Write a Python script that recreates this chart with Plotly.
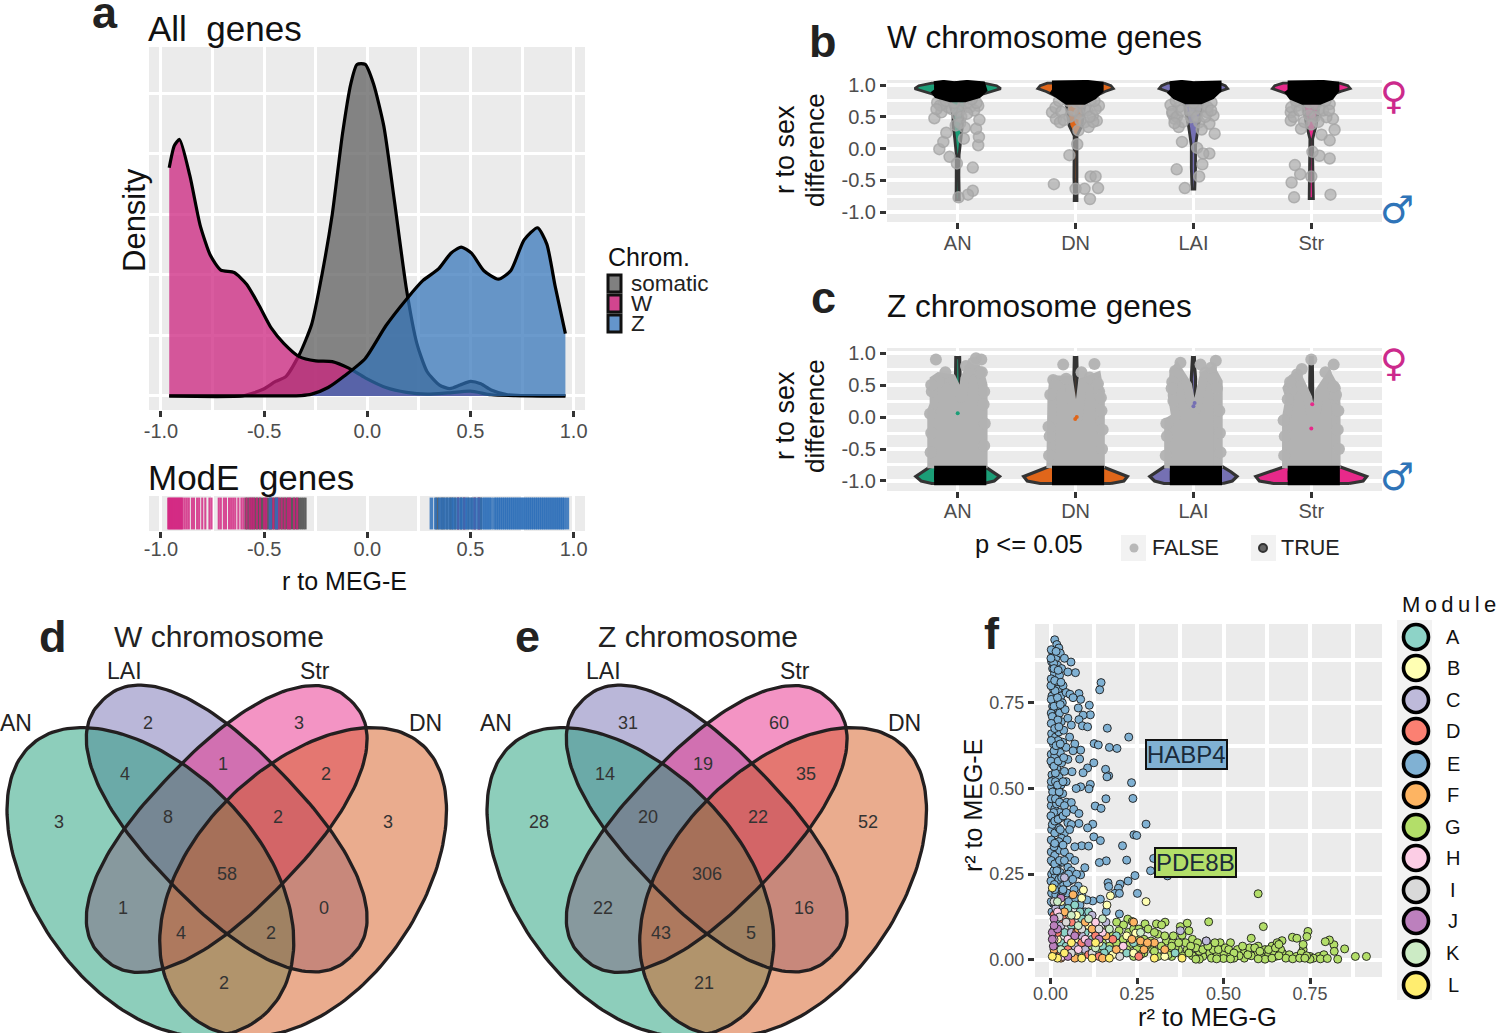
import numpy as np
import plotly.graph_objects as go

W_PX, H_PX = 1500, 1033
FONT = "Liberation Sans"
TICK = "#4d4d4d"
PANEL = "#ebebeb"

# ---------- panel a : density curves ----------
somatic_x = [-.96,-.60,-.505,-.445,-.395,-.33,-.27,-.22,-.17,-.12,-.08,-.05,-.01,.03,.08,.13,.19,.24,.29,.35,.40,.45,.50,.55,.60,.68,.80,.96]
somatic_y = [0,.002,.055,.12,.16,.34,.59,1.0,1.5,2.17,2.58,2.74,2.74,2.58,2.23,1.63,.88,.435,.2,.09,.06,.09,.12,.10,.05,.01,.002,0]
w_x = [-.96,-.935,-.91,-.86,-.81,-.76,-.71,-.645,-.585,-.525,-.465,-.405,-.33,-.25,-.17,-.09,-.01,.09,.19,.29,.39,.5,.6,.75,.96]
w_y = [1.886,2.07,2.12,1.82,1.41,1.16,1.04,1.02,.924,.75,.56,.435,.325,.29,.284,.23,.15,.07,.03,.015,.025,.04,.01,.002,0]
z_x = [-.96,-.40,-.32,-.27,-.19,-.11,-.01,.09,.19,.27,.345,.405,.455,.505,.565,.635,.695,.76,.825,.87,.91,.96]
z_y = [0,0,.003,.015,.07,.167,.31,.58,.8,.955,1.05,1.18,1.23,1.18,1.035,.965,1.035,1.29,1.39,1.255,.91,.515]

# ---------- panel a : ModE rug ----------
rug_somatic = [-.59,-.58,-.57,-.56,-.55,-.54,-.53,-.52,-.51,-.50,-.49,-.48,-.47,-.46,-.45,-.44,-.43,-.42,-.41,-.40,-.39,-.38,-.37,-.36,-.35,-.34,-.33,-.32,-.31,-.30,
               .335,.345,.36,.37,.385,.40,.41,.425,.44,.455,.47,.49,.505,.52,.54,.55]
rug_w = [-.965,-.96,-.955,-.95,-.945,-.94,-.935,-.93,-.925,-.92,-.915,-.91,-.905,-.90,-.895,-.885,-.875,-.865,-.85,-.84,-.825,-.815,-.80,-.785,-.765,-.755,-.72,-.71,-.695,-.685,-.67,-.66,-.65,-.64,-.625,-.61,-.60,-.585,-.57,-.56,-.55,-.535,-.52,-.50,-.49,-.47,-.455,-.44,-.43,-.415,-.40,-.385,-.375,-.355,-.34,.44,.47,.52,.54]
rug_z = [-.47,-.44,.31,.33,.35,.365,.38,.395,.41,.42,.435,.45,.46,.475,.485,.50,.515,.53,.545,.56,.57,.58,.59,.60,.615,.625,.635,.645,.655,.665,.675,.685,.695,.705,.715,.725,.735,.745,.755,.765,.775,.785,.795,.805,.815,.825,.835,.845,.855,.865,.875,.885,.895,.905,.915,.925,.935,.945,.955,.97]

# ---------- panels b, c : violins ----------
regions = ["AN", "DN", "LAI", "Str"]
region_colors = ["#1b9e77", "#e0661a", "#7570b3", "#e7298a"]

b_viol_r = [[1.03,.99,.945,.90,.855,.72,.52,.37,.15,-.10,-.42,-.70,-.81],
            [1.03,.99,.945,.90,.80,.70,.52,.36,.20,-.15,-.47,-.67,-.82],
            [1.03,.99,.945,.90,.80,.72,.36,.05,-.31,-.64],
            [1.03,.99,.945,.90,.80,.72,.36,.15,-.15,-.47,-.79]]
b_viol_hw = [[.22,.33,.365,.29,.21,.07,.04,.04,.025,.012,.01,.014,.014],
             [.24,.30,.32,.25,.14,.08,.065,.055,.012,.01,.014,.01,.012],
             [.22,.27,.29,.22,.11,.08,.042,.018,.018,.012],
             [.24,.31,.33,.25,.11,.07,.04,.012,.012,.018,.018]]
# black clouds of significant genes
b_blob_x = [[-.2,-.12,-.03,.08,.2,.21,.17,.06,-.06,-.17,-.2],[-.2,-.1,.0,.1,.2,.2,.15,.07,-.07,-.15,-.2],[-.2,-.1,.0,.12,.2,.2,.15,.06,-.06,-.15,-.2],[-.2,-.08,.03,.1,.2,.2,.16,.07,-.07,-.16,-.2]]
b_blob_r = [[.99,1.01,.99,1.01,.99,.93,.86,.80,.80,.86,.93],[1.0,1.01,.99,1.01,.99,.93,.84,.76,.76,.84,.93],[.99,1.01,.99,1.01,1.0,.93,.84,.77,.77,.84,.93],[1.0,1.01,.99,1.01,.99,.93,.83,.76,.76,.83,.93]]
b_grey_x = [[-.198,-.156,-.122,-.097,-.069,-.007,.128,.128,.087,.007,.174,.18,.156,.184,.174,.052,-.017,-.174,-.139,.035,.104,0,-.12,-.08,.05,.1,0,-.15,-.18,-.05,.14,.16,.03,.08,-.1,.12,-.03,.02,.06],
            [-.184,-.052,.014,0,.076,.128,.17,.191,.122,-.2,-.167,-.132,.18,.146,.198,.076,.007,.076,.024,-.0625,.128,.11,-.17,-.12,-.05,.03,.1,.15,.05,-.02,.12,-.1,.17,.04,-.14,.16],
            [-.194,-.16,-.177,-.125,-.097,.031,.135,.083,.076,.049,-.142,-.073,.18,.17,.135,.014,.083,-.056,.049,-.021,-.125,.153,.118,-.18,-.14,-.1,-.03,.06,.12,.03,.1,-.15,.15,0,-.09,.07,-.16],
            [-.174,-.139,-.094,-.167,-.146,0,.163,.156,.069,.01,.198,.156,.087,.184,.128,.156,.069,-.017,-.087,-.174,-.122,-.017,-.09,-.17,-.15,-.1,-.03,.04,.1,.15,.03,-.06,-.13,.12,.06,0]]
b_grey_r = [[.478,-.01,.104,.249,-.13,-.234,-.30,-.665,-.727,-.769,.052,.182,.312,.452,.675,.156,.364,.727,.571,.623,.649,.519,.7,.65,.7,.72,.6,.68,.62,.62,.6,.72,.5,.55,.75,.78,.72,.4,.33],
            [-.561,-.104,.068,-.634,-.634,-.44,-.44,-.623,-.795,.571,.468,.415,.44,.52,.675,.623,.727,.415,.286,.753,.753,.338,.65,.58,.5,.55,.6,.42,.72,.6,.5,.45,.62,.45,.75,.75],
            [.686,.468,.545,.338,.104,.01,-.078,-.078,-.249,-.44,-.327,-.623,.234,.519,.39,.623,.727,.753,.415,.494,.649,.727,.571,.58,.5,.6,.6,.65,.65,.5,.5,.75,.6,.72,.42,.3,.4],
            [.571,-.26,-.405,-.535,-.769,-.44,-.727,-.156,-.114,-.052,.296,.13,.218,.468,.494,.701,.623,.519,.312,.442,.675,.727,.73,.65,.5,.6,.6,.7,.6,.6,.5,.42,.75,.75,.42,.38]]

c_viol_r = [-1.04,-1.0,-.93,-.86,-.78,-.65,.3,.6,.75,.93]
c_viol_hw = [[.22,.31,.355,.30,.235,.05,.02,.02,.018,.016],
             [.30,.41,.44,.35,.235,.05,.014,.014,.014,.01],
             [.25,.33,.37,.32,.25,.05,.014,.018,.012,.008],
             [.32,.44,.47,.36,.235,.05,.012,.012,.012,.008]]
# outline of the overlapping grey (non-significant) genes
c_cloud_x = [[-.22,-.22,-.2,-.205,-.2,-.16,-.05,.04,.06,.10,.16,.2,.215,.215],
             [-.21,-.21,-.2,-.19,-.18,-.06,-.02,.02,.06,.14,.18,.21,.21],
             [-.21,-.21,-.15,-.18,-.165,-.14,-.05,-.02,.03,.09,.16,.21,.21,.21],
             [-.21,-.21,-.18,-.205,-.16,-.12,-.03,.02,.07,.15,.2,.21,.21]]
c_cloud_r = [[-.80,.10,.2,.35,.58,.63,.6,.25,.6,.75,.75,.6,.5,-.80],
             [-.80,.0,.34,.5,.58,.58,.1,-.05,.55,.6,.63,.3,-.80],
             [-.80,-.07,.0,.34,.7,.76,.5,.2,.15,.65,.72,.55,.2,-.80],
             [-.80,.0,.3,.45,.6,.65,.3,-.2,.4,.62,.45,.2,-.80]]
c_band_r = [-.84,-.84,-.99,-.99]
c_band_x = [-.2,.2,.2,-.2]
c_grey_x = [[-.185,-.105,.07,.105,.155,.2,.13,-.16,.19,-.23,-.225,-.235,-.22,-.225,.225,.23,.22,.225,.205],
            [-.105,.16,-.19,-.17,.175,.12,-.08,.2,.05,-.225,-.22,-.23,-.215,.225,.23,.22,.215,.19],
            [-.155,.19,-.13,.1,.15,-.18,-.11,.17,.06,-.235,-.225,-.23,-.17,-.185,.23,.225,.22,.2],
            [.0,.19,-.17,-.12,.12,.2,-.08,.2,-.18,-.23,-.225,-.235,-.2,.235,.225,.23,.21,.19]]
c_grey_r = [[.9,.7,.8,.75,.92,.9,.85,.55,.7,-.55,-.25,.05,.4,.5,-.45,-.1,.2,.4,.7],
            [.82,.83,.58,.5,.55,.62,.6,.4,.7,-.6,-.3,-.15,.35,-.5,-.2,.1,.3,.52],
            [.72,.88,.65,.7,.77,.55,.85,.6,.82,-.6,-.3,-.1,.25,.45,-.55,-.25,.1,.45],
            [.9,.82,.42,.67,.7,.45,.75,.3,.55,-.6,-.3,-.05,.28,-.5,-.2,.1,.35,.48]]
accent_x = [[.0],[-.003,.01],[.0,.01],[.0,.008]]
accent_r = [[.06],[-.03,.0],[.17,.22],[-.18,.2]]

# ---------- panels d, e : Venn ----------
venn_sets = ["AN", "LAI", "Str", "DN"]
venn_w = [3,2,3,3,4,1,2,8,2,58,1,0,4,2,2]
venn_z = [28,31,60,52,14,19,35,20,22,306,22,16,43,5,21]

# ---------- panel f : modules ----------
modules = list("ABCDEFGHIJKL")
module_colors = ["#8dd3c7","#ffffb3","#bebada","#fb8072","#80b1d3","#fdb462","#b3de69","#fccde5","#d9d9d9","#bc80bd","#ccebc5","#ffed6f"]
module_E = [(.059,.869),(.072,.838),(.146,.809),(.142,.788),(.082,.777),(.087,.76),(.112,.743),(.08,.735),(.115,.715),(.094,.714),(.082,.701),(.092,.683),(.107,.68),(.164,.676),(.226,.65),(.126,.631),(.138,.627),(.17,.62),(.192,.617),(.087,.612),(.084,.586),(.125,.575),(.30,.575),(.107,.56),(.094,.546),(.159,.556),(.168,.537),(.163,.534),(.062,.549),(.234,.517),(.115,.512),(.111,.499),(.087,.505),(.074,.5),(.238,.471),(.16,.47),(.129,.449),(.146,.442),(.047,.46),(.06,.459),(.067,.439),(.082,.427),(.082,.398),(.276,.396),(.122,.396),(.107,.385),(.125,.359),(.241,.365),(.249,.363),(.144,.348),(.09,.333),(.11,.332),(.208,.333),(.298,.296),(.161,.289),(.141,.284),(.22,.291),(.289,.26),(.338,.245),(.244,.246),(.224,.23),(.166,.225),(.201,.221),(.196,.209),(.168,.214),(.251,.194),(.186,.194),(.199,.194),(.122,.172),(.144,.177),(.161,.141),(.199,.134),(.099,.269),(.087,.248),
 (.005,.9),(.012,.934),(.018,.92),(.008,.89),(.024,.91),(.003,.87),(.015,.88),(.028,.895),(.04,.88),(.006,.85),(.02,.86),(.011,.835),(.032,.85),(.002,.82),(.017,.81),(.026,.83),(.05,.84),(.008,.79),(.022,.79),(.036,.8),(.004,.77),(.013,.76),(.03,.77),(.045,.78),(.056,.775),(.006,.74),(.019,.735),(.034,.75),(.065,.765),(.002,.72),(.012,.71),(.026,.72),(.042,.73),(.007,.69),(.018,.68),(.031,.695),(.05,.705),(.003,.66),(.014,.65),(.024,.665),(.038,.67),(.06,.685),(.008,.63),(.02,.62),(.035,.635),(.055,.65),(.07,.63),(.002,.6),(.012,.595),(.028,.605),(.045,.62),(.065,.61),(.006,.57),(.018,.56),(.032,.575),(.05,.585),(.004,.54),(.01,.525),(.024,.535),(.04,.55),(.003,.505),(.016,.495),(.03,.51),(.045,.52),(.008,.475),(.02,.47),(.035,.485),(.002,.45),(.012,.44),(.026,.43),(.006,.415),(.018,.405),(.03,.415),(.05,.4),(.06,.395),(.003,.38),(.012,.37),(.024,.385),(.04,.37),(.055,.38),(.007,.345),(.018,.34),(.032,.355),(.048,.35),(.07,.33),(.002,.315),(.012,.305),(.026,.32),(.04,.315),(.055,.3),(.006,.285),(.02,.275),(.034,.285),(.05,.27),(.07,.29),(.003,.25),(.014,.245),(.028,.255),(.042,.245),(.06,.26),(.075,.25),(.008,.22),(.022,.215),(.038,.22),(.055,.23),(.08,.215),(.003,.195),(.015,.19),(.03,.185),(.048,.195),(.068,.205),(.09,.19),(.007,.165),(.022,.16),(.04,.165),(.06,.17),(.085,.16),(.105,.175),(.004,.14),(.015,.135),(.03,.13),(.05,.145),(.075,.13),(.1,.14),
 (.002,.905),(.016,.9),(.009,.865),(.013,.785),(.005,.71),(.021,.7),(.01,.61),(.022,.64),(.014,.545),(.006,.49),(.025,.49),(.009,.43),(.017,.455),(.005,.395),(.01,.33),(.024,.345),(.016,.27),(.009,.26),(.024,.235),(.035,.2),
 (.001,.88),(.01,.85),(.022,.845),(.001,.8),(.012,.815),(.03,.81),(.002,.76),(.02,.765),(.01,.74),(.028,.745),(.002,.69),(.012,.675),(.024,.68),(.002,.64),(.016,.625),(.028,.63),(.001,.58),(.01,.565),(.022,.58),(.038,.59),(.002,.52),(.014,.52),(.02,.51),(.036,.52),(.002,.47),(.014,.47),(.026,.46),(.04,.45),(.001,.42),(.012,.405),(.022,.41),(.036,.42),(.045,.43),(.002,.35),(.012,.34),(.028,.38),(.036,.335),(.002,.29),(.012,.28),(.026,.29),(.04,.29),(.001,.23),(.011,.22),(.018,.26),(.032,.24),(.048,.225),(.002,.17),(.012,.205),(.02,.17),(.036,.205),(.052,.25),(.064,.235),(.07,.18),(.052,.17),(.035,.15)]
module_G = [(.60,.193),(.615,.097),(.457,.111),(.913,.01),(.881,.01),(.85,.032),(.83,.002),(.819,.044),(.806,.058),(.794,.053),(.744,.083),(.741,.068),(.699,.066),(.712,.063),(.669,.056),(.58,.063),(.395,.107),(.375,.097),(.331,.11),(.306,.105),(.321,.102),(.273,.105),(.223,.119),(.236,.112),(.191,.11),(.211,.102),(.282,.09),(.198,.085),(.225,.08),(.25,.07),(.31,.075),(.335,.055),(.352,.05),(.38,.072),(.4,.085),(.41,.06),(.425,.05),(.45,.055),(.47,.04),(.49,.05),(.495,.03),(.52,.05),(.54,.03),(.56,.02),(.575,.035),(.6,.04),(.62,.03),(.64,.04),(.655,.05),(.67,.02),(.69,.015),(.73,.03),(.73,.045),(.75,.01),(.775,.01),(.79,.015),(.82,.025),(.76,.005),(.71,.01),(.68,.005),(.65,.01),(.63,.015),(.61,.008),(.595,.02),(.58,.012),(.56,.005),(.545,.012),(.53,.005),(.515,.01),(.5,.02),(.48,.012),(.46,.02),(.44,.01),(.43,.025),(.41,.012),(.395,.03),(.38,.012),(.37,.03),(.35,.01),(.33,.02),(.31,.01),(.295,.03),(.27,.02),(.25,.035),(.23,.045),(.21,.06),(.19,.05),(.17,.04),(.29,.055),(.36,.035),(.39,.05),(.345,.03),(.42,.035),(.465,.005),(.47,.03),(.43,.002),(.5,.004),(.62,.002),(.7,.003),(.725,.02),(.665,.03),(.645,.025),(.555,.04),(.6,.003),(.24,.01),(.2,.015),(.18,.02),(.16,.015),(.14,.03),(.12,.04),(.1,.02),(.75,.002),(.74,.012),(.27,.06),(.32,.04),
 (.405,.04),(.44,.03),(.455,.04),(.485,.03),(.475,.05),(.505,.035),(.515,.03),(.53,.02),(.57,.015),(.59,.035),(.605,.025),(.63,.03),(.65,.035),(.66,.045),(.64,.005),(.66,.012),(.72,.005),(.735,.005),(.78,.003),(.8,.004),(.37,.05),(.33,.07),(.355,.07),(.3,.08),(.28,.045),(.26,.05),(.4,.02),(.34,.015),(.35,.04),(.42,.002),(.48,.003),(.52,.003),(.22,.03),(.26,.015),(.3,.025),(.15,.05),(.18,.07),(.24,.09),(.255,.09),(.165,.09)]
module_A = [(.06,.1),(.03,.05),(.09,.12),(.12,.06),(.02,.11),(.15,.04),(.08,.02),(.05,.15),(.1,.08),(.17,.03),(.22,.02),(.04,.08),(.13,.02),(.36,.02),(.07,.16),(.11,.14),(.19,.07),(.01,.02),(.24,.05),(.085,.14),(.045,.04),(.155,.02)]
module_B = [(.276,.17),(.173,.187),(.163,.16),(.095,.204),(.246,.078),(.09,.18),(.05,.12),(.02,.06),(.14,.05),(.08,.06),(.2,.03),(.11,.1),(.18,.015),(.03,.17),(.24,.02),(.075,.13),(.01,.09),(.33,.01),(.22,.07),(.13,.08),(.07,.01)]
module_C = [(.04,.24),(.16,.11),(.12,.13),(.015,.15),(.07,.04),(.03,.1),(.1,.03),(.375,.085),(.45,.055),(.02,.03),(.06,.08),(.09,.07)]
module_D = [(.01,.13),(.05,.03),(.14,.01),(.02,.08),(.09,.05),(.13,.07),(.06,.11),(.255,.01),(.03,.02),(.18,.06),(.11,.015),(.035,.12),(.075,.08)]
module_F = [(.065,.19),(.01,.03),(.04,.14),(.1,.11),(.16,.07),(.24,.11),(.26,.055),(.3,.05),(.33,.03),(.08,.09),(.03,.005),(.07,.005),(.12,.09),(.19,.03),(.27,.03),(.15,.005),(.28,.05),(.235,.06)]
module_H = [(.05,.06),(.02,.14),(.13,.11),(.08,.03),(.15,.08),(.035,.01),(.1,.06),(.01,.06),(.21,.04)]
module_I = [(.045,.11),(.01,.17),(.09,.09),(.14,.09),(.06,.02),(.2,.01),(.025,.125),(.12,.02)]
module_J = [(.01,.12),(.005,.08),(.03,.18),(.02,.09),(.07,.07),(.05,.01),(.11,.05),(.008,.04),(.14,.06),(.01,.1),(.005,.06)]
module_K = [(.06,.13),(.11,.12),(.03,.03),(.08,.1),(.15,.12),(.02,.17),(.13,.035),(.26,.08),(.17,.09)]
module_L = [(.005,.21),(.04,.02),(.09,.005),(.02,.005),(.06,.05),(.12,.005),(.17,.005),(.13,.05),(.005,.01),(.38,.005),(.3,.005)]
module_points = dict(E=module_E, G=module_G, A=module_A, B=module_B, C=module_C, D=module_D,
                     F=module_F, H=module_H, I=module_I, J=module_J, K=module_K, L=module_L)


def dom(l, t, r, b):
    return dict(x=[l / W_PX, r / W_PX], y=[1 - b / H_PX, 1 - t / H_PX])


PANELS = dict(a=(149, 47, 585, 410), rug=(149, 496, 585, 531), b=(887, 80, 1382, 222),
              c=(887, 348, 1382, 491), f=(1035, 624, 1382, 977))
shapes, annots = [], []


def px(x, y):
    return x / W_PX, 1 - y / H_PX


def text(x, y, s, size, color="#111", anchor="left", rot=0, bold=False, family=FONT):
    if anchor == "left":
        x -= 2
    xx, yy = px(x, y)
    annots.append(dict(x=xx, y=yy, xref="paper", yref="paper", text=f"<b>{s}</b>" if bold else s,
                       showarrow=False, xanchor=anchor, yanchor="middle", textangle=rot,
                       font=dict(family=family, size=size, color=color)))


def box(l, t, r, b, fill, line=None, lw=0, layer="above"):
    x0, y0 = px(l, b)
    x1, y1 = px(r, t)
    shapes.append(dict(type="rect", xref="paper", yref="paper", x0=x0, x1=x1, y0=y0, y1=y1,
                       fillcolor=fill, line=dict(color=line or "rgba(0,0,0,0)", width=lw), layer=layer))


for rect in PANELS.values():
    box(*rect, PANEL, layer="below")


def axis(domain, rng, n, vals=None, labels=None, minor=None, size=20, showlabels=True, ticks=True, grid=True, gw=3.2, letter="y", standoff=0, ratio=.8):
    d = dict(domain=domain, range=rng, anchor=f"{letter}{n}", automargin=False, zeroline=False, showline=False, showgrid=grid,
             gridcolor="white", gridwidth=gw,
             tickmode="array", tickvals=vals or [], ticktext=labels or vals or [], showticklabels=showlabels,
             ticks="outside" if ticks else "", ticklen=6, tickwidth=3, tickcolor="#333", ticklabelstandoff=standoff,
             tickfont=dict(family=FONT, size=size, color=TICK))
    if minor:
        d["minor"] = dict(tickmode="array", tickvals=minor, showgrid=True, gridcolor="white", gridwidth=gw * ratio, ticks="")
    return d


fig = go.Figure()


def add(trace, n):
    trace.update(xaxis=f"x{n}", yaxis=f"y{n}", showlegend=False, hoverinfo="skip")
    fig.add_trace(trace)


# panel a density
for xs, ys, fill in [(somatic_x, somatic_y, "rgba(105,105,105,.8)"), (w_x, w_y, "rgba(204,34,125,.74)"), (z_x, z_y, "rgba(50,115,185,.72)")]:
    add(go.Scatter(x=xs, y=ys, mode="lines", line=dict(color="black", width=3.2, shape="spline", smoothing=.6),
                   fill="tozeroy", fillcolor=fill), 1)

# rug
for vals, col, w in [(rug_somatic, "rgba(70,70,70,.85)", 2.4), (rug_w, "rgba(210,30,125,.8)", 2.1), (rug_z, "rgba(45,110,185,.85)", 3.4)]:
    xs, ys = [], []
    for v in vals:
        xs += [v, v, None]
        ys += [0, 1, None]
    add(go.Scatter(x=xs, y=ys, mode="lines", line=dict(color=col, width=w)), 2)

# violins b
DARK = "#333333"
GREY = "rgba(172,172,172,.72)"
for i, col in enumerate(region_colors):
    r, hw = b_viol_r[i], b_viol_hw[i]
    xs = [i + h for h in hw] + [i - h for h in reversed(hw)] + [i + hw[0]]
    ys = list(r) + list(reversed(r)) + [r[0]]
    add(go.Scatter(x=xs, y=ys, mode="lines", line=dict(color=DARK, width=2.8), fill="toself", fillcolor=col), 3)
    add(go.Scatter(x=[i + v for v in b_grey_x[i]], y=b_grey_r[i], mode="markers",
                   marker=dict(size=11, color=GREY, line=dict(width=1.5, color="rgba(165,165,165,.8)"))), 3)
    add(go.Scatter(x=[i + v for v in b_blob_x[i]], y=b_blob_r[i], mode="lines", line=dict(color="black", width=9),
                   fill="toself", fillcolor="black"), 3)

# violins c
for i, col in enumerate(region_colors):
    r, hw = c_viol_r, c_viol_hw[i]
    xs = [i + h for h in hw] + [i - h for h in reversed(hw)] + [i + hw[0]]
    ys = list(r) + list(reversed(r)) + [r[0]]
    add(go.Scatter(x=xs, y=ys, mode="lines", line=dict(color=DARK, width=3.2), fill="toself", fillcolor=col), 4)
    add(go.Scatter(x=[i + v for v in c_cloud_x[i]], y=c_cloud_r[i], mode="lines", line=dict(color="#b2b2b2", width=9),
                   fill="toself", fillcolor="#b2b2b2"), 4)
    add(go.Scatter(x=[i + v for v in accent_x[i]], y=accent_r[i], mode="markers", marker=dict(size=4, color=col)), 4)
    add(go.Scatter(x=[i + v for v in c_grey_x[i]], y=c_grey_r[i], mode="markers",
                   marker=dict(size=12, color="rgba(178,178,178,.95)")), 4)
    add(go.Scatter(x=[i + v for v in c_band_x], y=c_band_r, mode="lines", line=dict(color="black", width=10),
                   fill="toself", fillcolor="black"), 4)

# scatter f
for m, pts in module_points.items():
    add(go.Scatter(x=[p[0] for p in pts], y=[p[1] for p in pts], mode="markers",
                   marker=dict(size=8, color=module_colors[modules.index(m)], line=dict(color="#1a1a1a", width=.9))), 5)


# Venn diagrams drawn on a pixel-sized overlay
def loop(cx, cy, a, b, deg, n=2.0, egg=0.0):
    t = np.linspace(0, 2 * np.pi, 181)
    u = a * np.sign(np.cos(t)) * np.abs(np.cos(t)) ** (2 / n)
    v = b * np.sign(np.sin(t)) * np.abs(np.sin(t)) ** (2 / n) * (1 + egg * np.cos(t))
    th = np.radians(deg)
    return cx + u * np.cos(th) - v * np.sin(th), cy + u * np.sin(th) + v * np.cos(th)


VENN_FILL = {"AN": "rgba(27,158,119,.5)", "LAI": "rgba(117,112,179,.5)", "Str": "rgba(231,41,138,.5)", "DN": "rgba(214,89,30,.5)"}
VENN_GEOM = {"AN": (147.5, 880, 178.3, 112.5, 50, 2, .07), "DN": (306, 880, 178.3, 112.5, 130, 2, .07),
             "LAI": (226.7, 828.5, 178.5, 78, 46, 2.3, 0), "Str": (226.7, 829, 178.5, 78, 134, 2.3, 0)}
VENN_TEXT = [(59,822),(148,723),(299,723),(388,822),(125,774),(223,764),(326,774),(168,817),(278,817),(227,874),(123,908),(324,908),(181,933),(271,933),(224,983)]
for off, counts, title, lab in [(0, venn_w, "W chromosome", [(16,723),(124,671),(315,671),(425,723)]),
                                (480, venn_z, "Z chromosome", [(496,723),(603,671),(795,671),(904,723)])]:
    outlines = []
    for s in ["LAI", "Str", "AN", "DN"]:
        cx, cy, a, b, deg, n, egg = VENN_GEOM[s]
        xs, ys = loop(cx + off, cy, a, b, deg, n, egg)
        add(go.Scatter(x=xs, y=ys, mode="lines", line=dict(width=0), fill="toself", fillcolor=VENN_FILL[s]), 6)
        outlines.append((xs, ys))
    for xs, ys in outlines:
        add(go.Scatter(x=xs, y=ys, mode="lines", line=dict(color="#231f20", width=3.3)), 6)
    for (tx, ty), c in zip(VENN_TEXT, counts):
        text(tx + off, ty, str(c), 18, "#333", "center")
    for (tx, ty), s in zip(lab, venn_sets):
        text(tx, ty, s, 23, "#222", "center")
    text(219 + off - (1 if off else 0), 636, title, 30, "#222", "center")

# module legend (keys are markers on the overlay)
LEG_Y = [637, 668, 700, 731, 764, 795, 827, 858, 890, 921, 953, 985]
box(1397, 620, 1432, 1000, "#f2f2f2", layer="below")
add(go.Scatter(x=[1416] * 12, y=LEG_Y, mode="markers",
               marker=dict(size=25, color=module_colors, line=dict(color="black", width=3.6))), 6)
for y, m in zip(LEG_Y, modules):
    text(1453, y, m, 20, "#111", "center")
text(1402, 604, "M&#8201;o&#8201;d&#8201;u&#8201;l&#8201;e", 22, "#111")

# p-value legend
box(1121, 535, 1146, 561, "#f2f2f2", layer="below")
box(1251, 535, 1276, 561, "#f2f2f2", layer="below")
add(go.Scatter(x=[1134], y=[548], mode="markers", marker=dict(size=9, color="#b8b8b8")), 6)
add(go.Scatter(x=[1263], y=[548], mode="markers", marker=dict(size=8, color="#666", line=dict(color="#333", width=2))), 6)
text(975, 544, "p &lt;= 0.05", 25.5)
text(1152, 548, "FALSE", 21.5, "#222")
text(1281, 548, "TRUE", 21.5, "#222")

# Chrom legend
for (t, b), c, lab, y in zip([(275, 292), (295, 312), (315, 332)], ["#808080", "#d2458f", "#6495cb"], ["somatic", "W", "Z"], [283, 303, 323]):
    box(608, t, 621, b, c, "#111", 3)
    text(631, y, lab, 22.5, "#222")
text(608, 257, "Chrom.", 25, "#111")

# sex symbols
for x, y, s, c in [(1394, 96, "♀", "#cc2a8c"), (1397, 210, "♂", "#2f74b8"), (1394, 363, "♀", "#cc2a8c"), (1397, 477, "♂", "#2f74b8")]:
    text(x, y, s, 38, c, "center", family="DejaVu Sans")

# titles and axis titles
text(148, 29, "All&#160;&#160;genes", 35)
text(148, 477, "ModE&#160;&#160;genes", 35)
text(887, 37, "W chromosome genes", 31.5)
text(887, 306, "Z chromosome genes", 31.5)
text(134, 220, "Density", 31, "#111", "center", -90)
text(344, 581, "r to MEG-E", 25, "#111", "center")
for yc in (150, 416):
    text(785, yc, "r to sex", 27, "#111", "center", -90)
    text(815, yc, "difference", 26, "#111", "center", -90)
text(973, 805, "r² to MEG-E", 25, "#111", "center", -90)
text(1207, 1017, "r² to MEG-G", 25.5, "#111", "center")
for x, y, s in [(105, 13, "a"), (823, 42, "b"), (823, 297, "c"), (53, 636, "d"), (527, 636, "e"), (992, 633, "f")]:
    text(x, y, s, 45, "#222", "center", bold=True)

# labelled genes
for lx, ly, s, fill in [(.394, .60, "HABP4", "#80b1d3"), (.4175, .285, "PDE8B", "#b3de69")]:
    annots.append(dict(x=lx, y=ly, xref="x5", yref="y5", text=s, showarrow=False, bgcolor=fill, bordercolor="#111",
                       borderwidth=2, borderpad=0, font=dict(family=FONT, size=24, color="#1a2a3a")))

reg = [0, 1, 2, 3]
rv = [1.0, .5, 0.0, -.5, -1.0]
rl = ["1.0", "0.5", "0.0", "-0.5", "-1.0"]
rm = [.75, .25, -.25, -.75]
ax_lab = ["-1.0", "-0.5", "0.0", "0.5", "1.0"]
ax_val = [-1, -.5, 0, .5, 1]
ax_min = [-.75, -.25, .25, .75]
f_val = [0, .25, .5, .75]
f_lab = ["0.00", "0.25", "0.50", "0.75"]
f_min = [.125, .375, .625, .875]
layout = dict(
    template="none", width=W_PX, height=H_PX, margin=dict(l=0, r=0, t=0, b=0, pad=0), autosize=False, paper_bgcolor="white",
    plot_bgcolor="rgba(0,0,0,0)", shapes=shapes, annotations=annots, showlegend=False,
    xaxis=axis(dom(*PANELS["a"])["x"], [-1.058, 1.055], 1, ax_val, ax_lab, ax_min, gw=3.2, standoff=-3),
    yaxis=axis(dom(*PANELS["a"])["y"], [-.116, 2.884], 1, [0, .5, 1, 1.5, 2, 2.5], showlabels=False, ticks=False, gw=3.2, letter="x"),
    xaxis2=axis(dom(*PANELS["rug"])["x"], [-1.058, 1.055], 2, ax_val, ax_lab, ax_min, gw=3.2, standoff=-6),
    yaxis2=axis(dom(*PANELS["rug"])["y"], [-.05, 1.05], 2, grid=False, showlabels=False, ticks=False, letter="x"),
    xaxis3=axis(dom(*PANELS["b"])["x"], [-.6, 3.6], 3, reg, regions, gw=3, standoff=-3),
    yaxis3=axis(dom(*PANELS["b"])["y"], [-1.157, 1.08], 3, rv, rl, rm, gw=3.5, letter="x"),
    xaxis4=axis(dom(*PANELS["c"])["x"], [-.6, 3.6], 4, reg, regions, gw=3, standoff=-4),
    yaxis4=axis(dom(*PANELS["c"])["y"], [-1.157, 1.08], 4, rv, rl, rm, gw=3.5, letter="x"),
    xaxis5=axis(dom(*PANELS["f"])["x"], [-.045, .958], 5, f_val, f_lab, f_min, size=18, standoff=-6, gw=4, ratio=.9),
    yaxis5=axis(dom(*PANELS["f"])["y"], [-.05, .98], 5, f_val, f_lab, f_min, size=18, letter="x", gw=4, ratio=.9),
    xaxis6=dict(domain=[0, 1], range=[0, W_PX], visible=False, fixedrange=True, anchor="y6", automargin=False),
    yaxis6=dict(domain=[0, 1], range=[H_PX, 0], visible=False, fixedrange=True, anchor="x6", automargin=False),
)
fig.update_layout(**layout)
fig.write_html("out.html", config=dict(displayModeBar=False),
               post_script="document.body.style.margin='0';document.body.style.overflow='hidden';")
